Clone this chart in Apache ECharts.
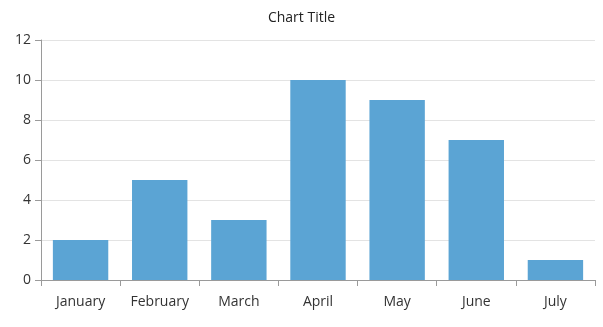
<!DOCTYPE html>
<html><head><meta charset="utf-8">
<script src="https://cdn.jsdelivr.net/npm/echarts@6/dist/echarts.min.js"></script>
<style>html,body{margin:0;padding:0;background:#fff}#c{width:603px;height:327px}</style>
</head><body><div id="c"></div>
<script>
const categories = ["January","February","March","April","May","June","July"];
const values = [2,5,3,10,9,7,1];
const title = "Chart Title";
const font = "'Open Sans', 'Noto Sans', sans-serif";
const chart = echarts.init(document.getElementById('c'), null, {renderer:'canvas'});
chart.setOption({
  animation:false,
  title:{text:title,left:'center',top:6,textStyle:{fontFamily:font,fontSize:14,fontWeight:'normal',color:'#222'}},
  grid:{left:41,right:8,top:40,bottom:47,containLabel:false},
  xAxis:{type:'category',data:categories,
    axisLine:{lineStyle:{color:'#9a9a9a',width:1}},
    axisTick:{show:true,length:6,lineStyle:{color:'#9a9a9a'}},
    axisLabel:{color:'#333',fontFamily:font,fontSize:14,margin:15}},
  yAxis:{type:'value',min:0,max:12,interval:2,
    axisLine:{show:true,lineStyle:{color:'#9a9a9a',width:1}},
    axisTick:{show:true,length:6,lineStyle:{color:'#9a9a9a'}},
    splitLine:{lineStyle:{color:'#e3e3e3'}},
    axisLabel:{color:'#333',fontFamily:font,fontSize:14,margin:10}},
  series:[{type:'bar',data:values,barCategoryGap:'30%',itemStyle:{color:'#5BA4D4'}}]
});
</script></body></html>
